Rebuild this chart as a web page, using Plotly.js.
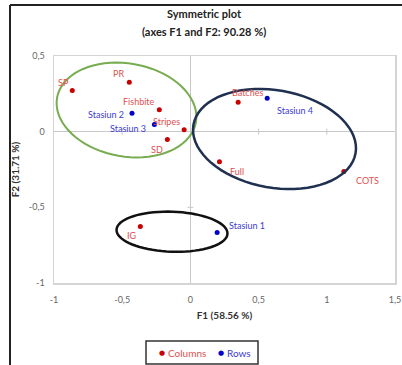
<!DOCTYPE html>
<html>
<head>
<meta charset="utf-8">
<script src="https://cdn.plot.ly/plotly-3.0.1.min.js"></script>
<style>html,body{margin:0;padding:0;background:#fff;}#chart{width:402px;height:365px;}</style>
</head>
<body>
<div id="chart"></div>
<script>
// ---- data ----
var colNames = ["SP", "PR", "Fishbite", "Stripes", "SD", "Batches", "Full", "COTS", "IG"];
var colF1 = [-0.866, -0.448, -0.228, -0.046, -0.169, 0.350, 0.213, 1.125, -0.367];
var colF2 = [0.272, 0.326, 0.144, 0.013, -0.051, 0.194, -0.199, -0.263, -0.627];

var rowNames = ["Stasiun 1", "Stasiun 2", "Stasiun 3", "Stasiun 4"];
var rowF1 = [0.196, -0.428, -0.264, 0.563];
var rowF2 = [-0.667, 0.121, 0.048, 0.221];

var seriesNames = ["Columns", "Rows"];
var xTickVals = [-1, -0.5, 0, 0.5, 1, 1.5];
var xTickText = ["-1", "-0,5", "0", "0,5", "1", "1,5"];
var yTickVals = [-1, -0.5, 0, 0.5];
var yTickText = ["-1", "-0,5", "0", "0,5"];

// ---- label offsets (px) : style only ----
var colLabelDx = [-9, -11, -20, -18, -10, 9, 18, 24, -8];
var colLabelDy = [-8, -9, -8, -8, 10, -10, 10, 9, 9];
var rowLabelDx = [30, -26, -26, 28];
var rowLabelDy = [-7, 1, 4, 12];

var RED = "#c80000", RED_T = "#e0504f", BLUE = "#0000c8", BLUE_T = "#3c3cd2";
var FONT = "Lato, 'Open Sans', sans-serif";

var xRange = [-1, 1.5], yRange = [-1, 0.5];
var W = 402, H = 365, mL = 54, mR = 7, mT = 56, mB = 82;
var PW = W - mL - mR, PH = H - mT - mB;
var kx = PW / (xRange[1] - xRange[0]);
var ky = PH / (yRange[1] - yRange[0]);
function px2paperX(p) { return (p - mL) / PW; }
function px2paperY(p) { return (H - mB - p) / PH; }

// ellipse helper (centre in px, semi-axes in px, tilt deg clockwise on screen) -> data path
function ellipsePath(pcx, pcy, a, b, deg) {
  var cx = (pcx - mL) / kx + xRange[0], cy = yRange[1] - (pcy - mT) / ky;
  var th = deg * Math.PI / 180, c = Math.cos(th), s = Math.sin(th), p = "";
  for (var i = 0; i <= 72; i++) {
    var t = i / 72 * 2 * Math.PI;
    var dx = a * c * Math.cos(t) - b * s * Math.sin(t);
    var dy = a * s * Math.cos(t) + b * c * Math.sin(t);
    p += (i === 0 ? "M" : "L") + (cx + dx / kx).toFixed(4) + "," + (cy - dy / ky).toFixed(4);
  }
  return p + "Z";
}

var annotations = [];
colNames.forEach(function (n, i) {
  annotations.push({x: colF1[i], y: colF2[i], text: n, showarrow: false, xanchor: "center", yanchor: "middle",
    xshift: colLabelDx[i], yshift: -colLabelDy[i], font: {family: FONT, size: 9, color: RED_T}});
});
rowNames.forEach(function (n, i) {
  annotations.push({x: rowF1[i], y: rowF2[i], text: n, showarrow: false, xanchor: "center", yanchor: "middle",
    xshift: rowLabelDx[i], yshift: -rowLabelDy[i], font: {family: FONT, size: 9, color: BLUE_T}});
});
annotations.push({xref: "paper", yref: "paper", x: px2paperX(204), y: px2paperY(14), xanchor: "center", yanchor: "middle",
  text: "<b>Symmetric plot</b>", showarrow: false, font: {family: FONT, size: 11, color: "#222"}});
annotations.push({xref: "paper", yref: "paper", x: px2paperX(204), y: px2paperY(31), xanchor: "center", yanchor: "middle",
  text: "<b>(axes F1 and F2: 90.28 %)</b>", showarrow: false, font: {family: FONT, size: 11, color: "#222"}});

// legend (drawn manually to match the compact boxed legend)
var legY = px2paperY(352.5);
[[161.5, 166, RED, RED_T], [220.5, 225, BLUE, BLUE_T]].forEach(function (it, i) {
  annotations.push({xref: "paper", yref: "paper", x: px2paperX(it[0]), y: legY, xanchor: "center", yanchor: "middle",
    text: "●", showarrow: false, font: {family: "DejaVu Sans", size: 7, color: it[2]}});
  annotations.push({xref: "paper", yref: "paper", x: px2paperX(it[1]), y: legY, xanchor: "left", yanchor: "middle",
    text: seriesNames[i], showarrow: false, font: {family: FONT, size: 10, color: it[3]}});
});

var shapes = [
  {type: "path", xref: "x", yref: "y", path: ellipsePath(126.5, 110, 70.5, 46.5, 10),
    line: {color: "#77ac50", width: 2}},
  {type: "path", xref: "x", yref: "y", path: ellipsePath(274.5, 139, 82.3, 48.7, 10),
    line: {color: "#1f3050", width: 2.5}},
  {type: "path", xref: "x", yref: "y", path: ellipsePath(172, 231.7, 55.5, 20, 2),
    line: {color: "#111", width: 2.5}},
  // outer frame (left and top)
  {type: "line", xref: "paper", yref: "paper", x0: px2paperX(10), x1: px2paperX(10),
    y0: px2paperY(H + 10), y1: px2paperY(5), line: {color: "#222", width: 2}},
  {type: "line", xref: "paper", yref: "paper", x0: px2paperX(10), x1: px2paperX(W + 10),
    y0: px2paperY(5), y1: px2paperY(5), line: {color: "#222", width: 2}},
  // legend box
  {type: "rect", xref: "paper", yref: "paper", x0: px2paperX(146), x1: px2paperX(258),
    y0: px2paperY(364), y1: px2paperY(341), line: {color: "#333", width: 1.5}, fillcolor: "rgba(0,0,0,0)"}
];
// small ticks on zero axes
xTickVals.forEach(function (v) {
  if (v > xRange[0] && v < xRange[1] && v !== 0)
    shapes.push({type: "line", xref: "x", yref: "y", x0: v, x1: v, y0: -3 / ky, y1: 3 / ky, line: {color: "#c8c8c8", width: 1}});
});
yTickVals.forEach(function (v) {
  if (v > yRange[0] && v < yRange[1] && v !== 0)
    shapes.push({type: "line", xref: "x", yref: "y", y0: v, y1: v, x0: -3 / kx, x1: 3 / kx, line: {color: "#c8c8c8", width: 1}});
});

var traces = [
  {type: "scatter", mode: "markers", x: colF1, y: colF2, name: seriesNames[0],
    marker: {color: RED, size: 5}, hoverinfo: "skip", cliponaxis: false},
  {type: "scatter", mode: "markers", x: rowF1, y: rowF2, name: seriesNames[1],
    marker: {color: BLUE, size: 5}, hoverinfo: "skip", cliponaxis: false}
];

var axisCommon = {showgrid: false, zeroline: true, zerolinecolor: "#c8c8c8", zerolinewidth: 1,
  showline: true, mirror: true, linecolor: "#d4d4d4", linewidth: 1.5, ticks: "",
  tickfont: {family: FONT, size: 9, color: "#666"}, fixedrange: true, automargin: false};

var layout = {
  width: W, height: H, margin: {l: mL, r: mR, t: mT, b: mB},
  paper_bgcolor: "#fff", plot_bgcolor: "#fff", font: {family: FONT},
  showlegend: false,
  xaxis: Object.assign({}, axisCommon, {range: xRange, tickvals: xTickVals, ticktext: xTickText,
    ticklabelstandoff: 8,
    title: {text: "<b>F1 (58.56 %)</b>", font: {family: FONT, size: 10, color: "#333"}, standoff: 7}}),
  yaxis: Object.assign({}, axisCommon, {range: yRange, tickvals: yTickVals, ticktext: yTickText,
    ticklabelstandoff: 6,
    title: {text: "<b>F2 (31.71 %)</b>", font: {family: FONT, size: 10, color: "#333"}, standoff: 7}}),
  annotations: annotations, shapes: shapes
};

Plotly.newPlot("chart", traces, layout, {displayModeBar: false, staticPlot: true});
</script>
</body>
</html>
